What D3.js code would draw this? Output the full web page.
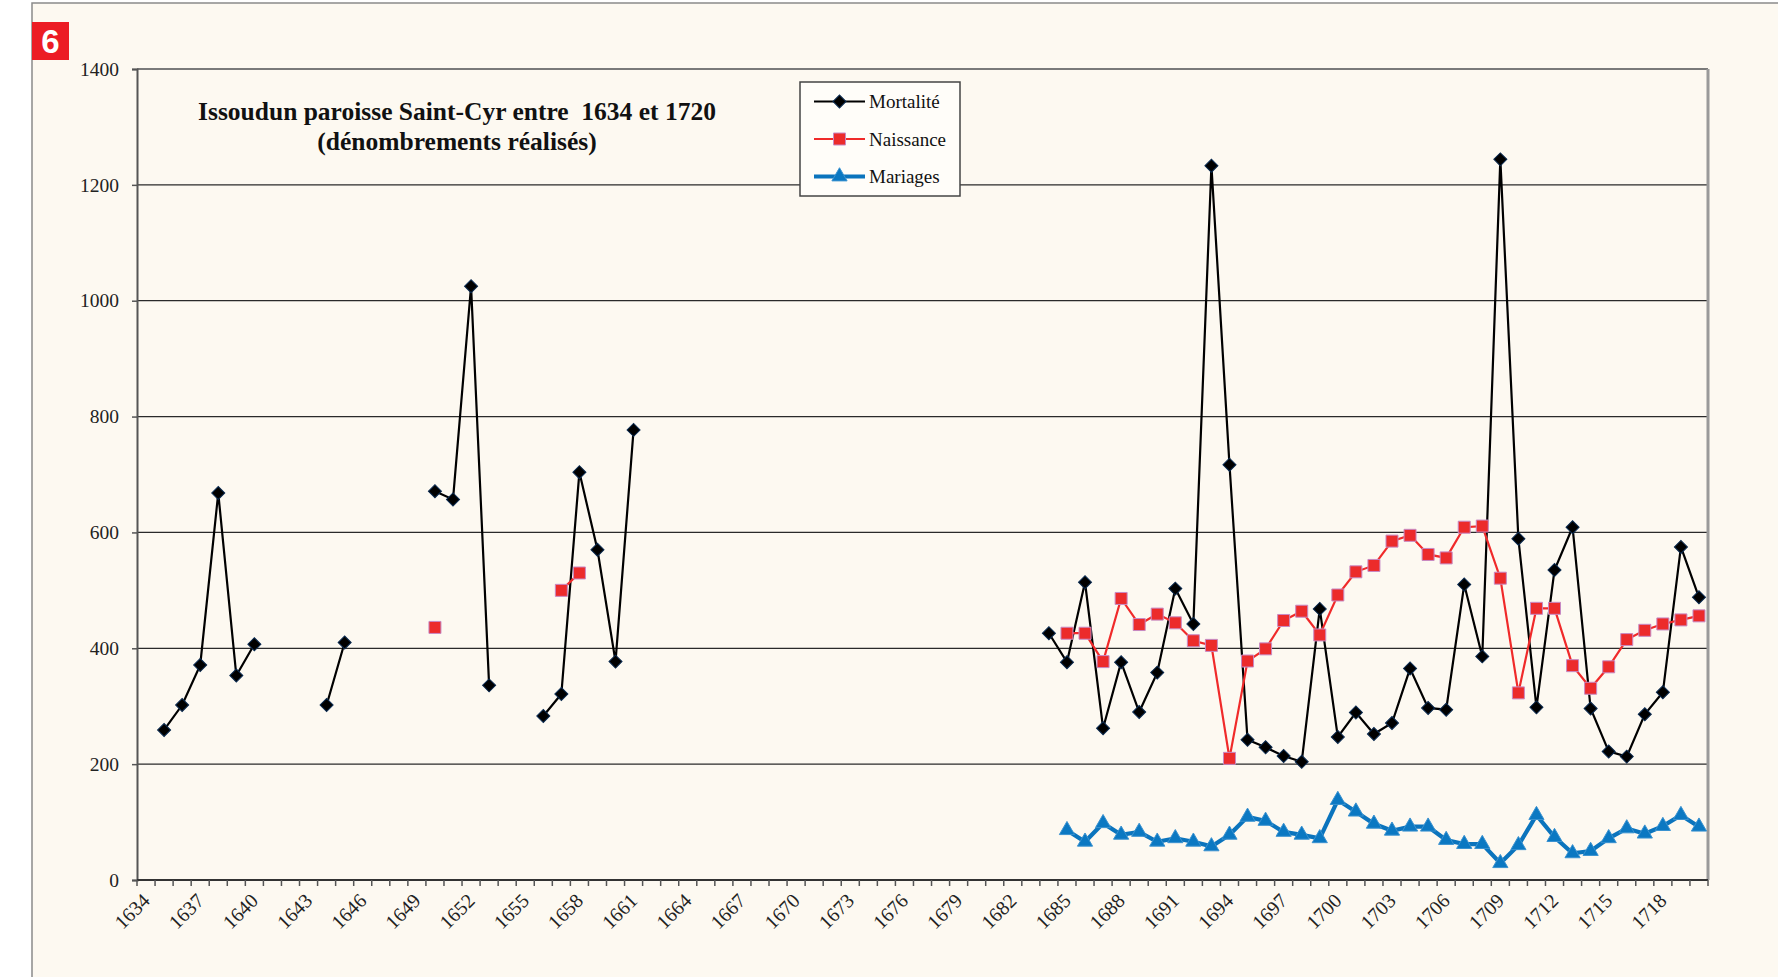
<!DOCTYPE html>
<html>
<head>
<meta charset="utf-8">
<script src="https://cdn.jsdelivr.net/npm/d3@7"></script>
<style>
  html, body { margin: 0; padding: 0; background: #ffffff; }
  svg { display: block; }
</style>
</head>
<body>
<svg id="chart" width="1778" height="977"></svg>
<script>
// ---------- DATA ----------
const years = [1634,1635,1636,1637,1638,1639,1640,1641,1642,1643,1644,1645,1646,1647,1648,1649,
  1650,1651,1652,1653,1654,1655,1656,1657,1658,1659,1660,1661,1662,1663,1664,1665,1666,1667,1668,1669,
  1670,1671,1672,1673,1674,1675,1676,1677,1678,1679,1680,1681,1682,1683,1684,1685,1686,1687,1688,1689,
  1690,1691,1692,1693,1694,1695,1696,1697,1698,1699,1700,1701,1702,1703,1704,1705,1706,1707,1708,1709,
  1710,1711,1712,1713,1714,1715,1716,1717,1718,1719,1720];

const tickLabels = ["1634","1637","1640","1643","1646","1649","1652","1655","1658","1661","1664","1667",
  "1670","1673","1676","1679","1682","1685","1688","1691","1694","1697","1700","1703","1706","1709",
  "1712","1715","1718"];

const yTicks = [0,200,400,600,800,1000,1200,1400];

// Mortalité (1634 .. 1720), null = no data
const mortalite = [null,259,302,371,668,353,407,null,null,null,302,410,null,null,null,null,
  671,657,1025,336,null,null,283,321,704,570,377,777,null,null,null,null,null,null,null,null,
  null,null,null,null,null,null,null,null,null,null,null,null,null,null,426,376,514,262,376,290,
  358,503,442,1233,717,242,229,214,204,468,247,289,252,271,365,297,294,510,386,1244,
  589,298,535,609,296,222,213,286,324,575,488];

// Naissance (1634 .. 1720)
const naissance = [null,null,null,null,null,null,null,null,null,null,null,null,null,null,null,null,
  436,null,null,null,null,null,null,500,530,null,null,null,null,null,null,null,null,null,null,null,
  null,null,null,null,null,null,null,null,null,null,null,null,null,null,null,426,426,377,486,441,
  459,444,413,405,210,378,399,448,464,423,492,532,543,585,595,562,556,609,611,521,
  323,469,469,370,331,368,415,431,442,449,456];

// Mariages (1634 .. 1720)
const mariages = [null,null,null,null,null,null,null,null,null,null,null,null,null,null,null,null,
  null,null,null,null,null,null,null,null,null,null,null,null,null,null,null,null,null,null,null,null,
  null,null,null,null,null,null,null,null,null,null,null,null,null,null,null,86,66,98,78,83,
  66,72,66,58,78,109,102,83,78,72,138,118,97,85,92,92,69,62,62,29,
  60,112,74,46,50,72,89,80,93,112,92];

const titleLines = ["Issoudun paroisse Saint-Cyr entre  1634 et 1720", "(dénombrements réalisés)"];
const seriesNames = ["Mortalité", "Naissance", "Mariages"];

// ---------- LAYOUT ----------
const svg = d3.select("#chart");
const L = 137, R = 1708, T = 69, B = 880;
const serif = "'Liberation Serif', 'Times New Roman', serif";

const x = d3.scaleBand().domain(years).range([L, R]).padding(0);
const y = d3.scaleLinear().domain([0, 1400]).range([B, T]);
const cx = yr => x(yr) + x.bandwidth() / 2;

// outer frame
svg.append("rect").attr("x", 32).attr("y", 3).attr("width", 1800).attr("height", 1000)
  .attr("fill", "#fdf9f1").attr("stroke", "#8a8a8a").attr("stroke-width", 1.5);

// badge
svg.append("rect").attr("x", 32).attr("y", 22).attr("width", 37).attr("height", 38).attr("fill", "#ec1c24");
svg.append("text").attr("x", 50.5).attr("y", 53).attr("text-anchor", "middle")
  .attr("font-family", "'Liberation Sans', Arial, sans-serif").attr("font-weight", "bold")
  .attr("font-size", 33).attr("fill", "#ffffff").text("6");

// gridlines
svg.append("g").selectAll("line").data(yTicks.filter(d => d > 0 && d < 1400)).join("line")
  .attr("x1", L).attr("x2", R).attr("y1", d => y(d)).attr("y2", d => y(d))
  .attr("stroke", "#2a2a2a").attr("stroke-width", 1.2);

// plot border: top and right
svg.append("line").attr("x1", L).attr("x2", R).attr("y1", T).attr("y2", T)
  .attr("stroke", "#7a7a7a").attr("stroke-width", 2);
svg.append("line").attr("x1", R).attr("x2", R).attr("y1", T).attr("y2", B)
  .attr("stroke", "#9a9a9a").attr("stroke-width", 3);

// y axis
const yAxis = d3.axisLeft(y).tickValues(yTicks).tickSize(5).tickPadding(13).tickFormat(d3.format("d"));
const gy = svg.append("g").attr("transform", `translate(${L},0)`).call(yAxis);
gy.select(".domain").attr("stroke", "#555").attr("stroke-width", 2);
gy.selectAll(".tick line").attr("stroke", "#555").attr("stroke-width", 1.5);
gy.selectAll(".tick text").attr("font-family", serif).attr("font-size", 19.5).attr("fill", "#222");

// x axis line
svg.append("line").attr("x1", L).attr("x2", R).attr("y1", B).attr("y2", B)
  .attr("stroke", "#333").attr("stroke-width", 2);
// ticks at category boundaries
const boundaries = years.map(yr => x(yr)).concat([x(years[years.length - 1]) + x.bandwidth()]);
svg.append("g").selectAll("line").data(boundaries).join("line")
  .attr("x1", d => d).attr("x2", d => d).attr("y1", B).attr("y2", B + 6)
  .attr("stroke", "#555").attr("stroke-width", 1.5);
// labels
svg.append("g").selectAll("text").data(tickLabels).join("text")
  .attr("transform", d => `translate(${cx(+d) + 5},${B + 22}) rotate(-45)`)
  .attr("text-anchor", "end")
  .attr("font-family", serif).attr("font-size", 20).attr("fill", "#222")
  .text(d => d);

// title
svg.append("g").selectAll("text").data(titleLines).join("text")
  .attr("x", 457).attr("y", (d, i) => 120 + i * 30)
  .attr("text-anchor", "middle").attr("font-family", serif).attr("font-weight", "bold")
  .attr("font-size", 25.5).attr("fill", "#111").style("white-space", "pre")
  .attr("xml:space", "preserve")
  .text(d => d);

// ---------- SERIES ----------
function pts(arr) { return years.map((yr, i) => ({ yr, v: arr[i] })); }
const line = d3.line().defined(d => d.v !== null).x(d => cx(d.yr)).y(d => y(d.v));

const series = [
  { name: seriesNames[0], data: mortalite, color: "#000000", width: 2.2,
    sym: d3.symbolSquare, size: 85, rot: 45, fill: "#000000", stroke: "#0a2a50" },
  { name: seriesNames[1], data: naissance, color: "#f02a2a", width: 2.2,
    sym: d3.symbolSquare, size: 144, rot: 0, fill: "#ec2b2b", stroke: "#c78ac4" },
  { name: seriesNames[2], data: mariages, color: "#0b74bd", width: 4.2,
    sym: d3.symbolTriangle, size: 100, rot: 0, fill: "#0b78c2", stroke: "#3a92d0" }
];

series.forEach(s => {
  const p = pts(s.data);
  svg.append("path").datum(p).attr("d", line).attr("fill", "none")
    .attr("stroke", s.color).attr("stroke-width", s.width).attr("stroke-linejoin", "miter");
  svg.append("g").selectAll("path").data(p.filter(d => d.v !== null)).join("path")
    .attr("d", d3.symbol().type(s.sym).size(s.size))
    .attr("transform", d => `translate(${cx(d.yr)},${y(d.v)}) rotate(${s.rot})`)
    .attr("fill", s.fill).attr("stroke", s.stroke).attr("stroke-width", 1);
});

// ---------- LEGEND ----------
const lg = svg.append("g");
lg.append("rect").attr("x", 800).attr("y", 82).attr("width", 160).attr("height", 114)
  .attr("fill", "#fffdf9").attr("stroke", "#444").attr("stroke-width", 1.5);
series.forEach((s, i) => {
  const ly = 101.5 + i * 37.5;
  lg.append("line").attr("x1", 814).attr("x2", 865).attr("y1", ly).attr("y2", ly)
    .attr("stroke", s.color).attr("stroke-width", s.width);
  lg.append("path").attr("d", d3.symbol().type(s.sym).size(s.size)())
    .attr("transform", `translate(839.5,${ly}) rotate(${s.rot})`)
    .attr("fill", s.fill).attr("stroke", s.stroke).attr("stroke-width", 1);
  lg.append("text").attr("x", 869).attr("y", ly + 6.5)
    .attr("font-family", serif).attr("font-size", 19).attr("fill", "#111").text(s.name);
});
</script>
</body>
</html>
